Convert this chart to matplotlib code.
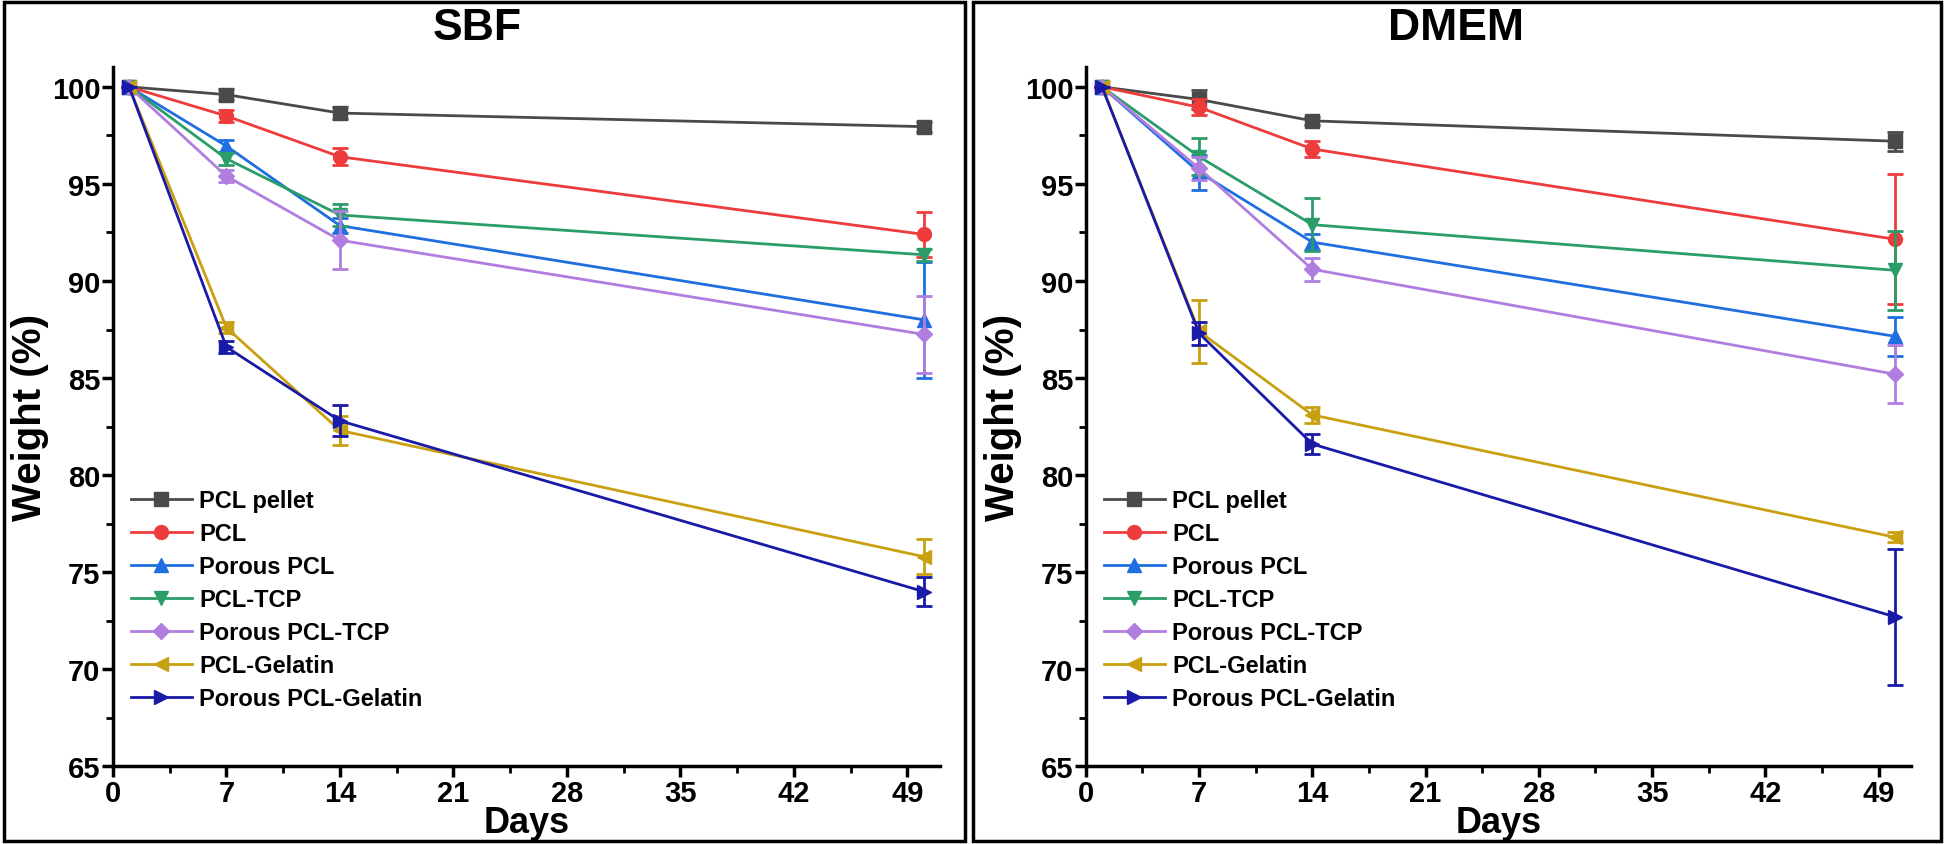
import numpy as np
import matplotlib
matplotlib.use("Agg")
import matplotlib.pyplot as plt
from matplotlib.patches import Rectangle
from matplotlib.ticker import MultipleLocator

plt.rcParams['font.family'] = ['Liberation Sans', 'DejaVu Sans']
plt.rcParams['font.weight'] = 'bold'

days = [1, 7, 14, 50]
labels = ['PCL pellet', 'PCL', 'Porous PCL', 'PCL-TCP',
          'Porous PCL-TCP', 'PCL-Gelatin', 'Porous PCL-Gelatin']
colors = ['#4a4a4a', '#ee3b3b', '#1f6fe0', '#2a9d68',
          '#b07ee0', '#c9a012', '#1a1aa8']
markers = ['s', 'o', '^', 'v', 'D', '<', '>']

# SBF
sbf_mean = [
    [100, 99.6, 98.65, 97.95],
    [100, 98.5, 96.4, 92.4],
    [100, 96.95, 92.85, 88.0],
    [100, 96.3, 93.4, 91.35],
    [100, 95.4, 92.1, 87.25],
    [100, 87.6, 82.3, 75.8],
    [100, 86.6, 82.8, 74.0],
]
sbf_err = [
    [0, 0.3, 0.3, 0.25],
    [0, 0.3, 0.45, 1.15],
    [0, 0.3, 0.4, 3.0],
    [0, 0.3, 0.55, 0.3],
    [0, 0.3, 1.5, 2.0],
    [0, 0.3, 0.75, 0.9],
    [0, 0.3, 0.8, 0.75],
]

# DMEM
dmem_mean = [
    [100, 99.35, 98.25, 97.2],
    [100, 98.95, 96.8, 92.15],
    [100, 95.6, 92.0, 87.15],
    [100, 96.4, 92.9, 90.55],
    [100, 95.8, 90.6, 85.2],
    [100, 87.4, 83.1, 76.8],
    [100, 87.3, 81.6, 72.7],
]
dmem_err = [
    [0, 0.5, 0.2, 0.5],
    [0, 0.4, 0.4, 3.35],
    [0, 0.9, 0.4, 1.0],
    [0, 0.95, 1.35, 2.05],
    [0, 0.6, 0.6, 1.5],
    [0, 1.6, 0.4, 0.25],
    [0, 0.6, 0.5, 3.5],
]


def plot_panel(ax, means, errs):
    for m, e, lab, c, mk in zip(means, errs, labels, colors, markers):
        ms = 8 if mk == 'D' else 10
        ax.errorbar(days, m, yerr=e, fmt='none', ecolor=c,
                    capsize=6, capthick=2, elinewidth=2)
        ax.plot(days, m, color=c, marker=mk, ms=ms, lw=2, label=lab)
    ax.set_xlim(0, 51)
    ax.set_ylim(65, 101)
    ax.set_xticks(range(0, 50, 7))
    ax.set_yticks(range(65, 101, 5))
    ax.xaxis.set_minor_locator(MultipleLocator(3.5))
    ax.yaxis.set_minor_locator(MultipleLocator(2.5))
    ax.tick_params(which='major', direction='out', length=8, width=2.5,
                   labelsize=21, pad=1)
    ax.tick_params(which='minor', direction='out', length=5, width=2)
    for s in ['top', 'right']:
        ax.spines[s].set_visible(False)
    for s in ['left', 'bottom']:
        ax.spines[s].set_linewidth(2.5)
    ax.set_xlabel('Days', fontsize=26, fontweight='bold', labelpad=-1)
    ax.set_ylabel('Weight (%)', fontsize=29, fontweight='bold', labelpad=2)
    ax.legend(loc='lower left', bbox_to_anchor=(0.01, 0.067), frameon=False,
              fontsize=17, handlelength=2.6, labelspacing=0.42,
              handletextpad=0.3, borderaxespad=0)


fig = plt.figure(figsize=(19.46, 8.45), dpi=100)
ax1 = fig.add_axes([0.058, 0.092, 0.425, 0.827])
ax2 = fig.add_axes([0.558, 0.092, 0.424, 0.827])
plot_panel(ax1, sbf_mean, sbf_err)
plot_panel(ax2, dmem_mean, dmem_err)

fig.text(0.245, 0.966, 'SBF', ha='center', va='center', fontsize=32,
         fontweight='bold')
fig.text(0.748, 0.966, 'DMEM', ha='center', va='center', fontsize=32,
         fontweight='bold')

fig.add_artist(Rectangle((0.002, 0.004), 0.494, 0.992, fill=False, lw=2.5,
                         transform=fig.transFigure))
fig.add_artist(Rectangle((0.5, 0.004), 0.4975, 0.992, fill=False, lw=2.5,
                         transform=fig.transFigure))

fig.savefig('out.png', dpi=100)
